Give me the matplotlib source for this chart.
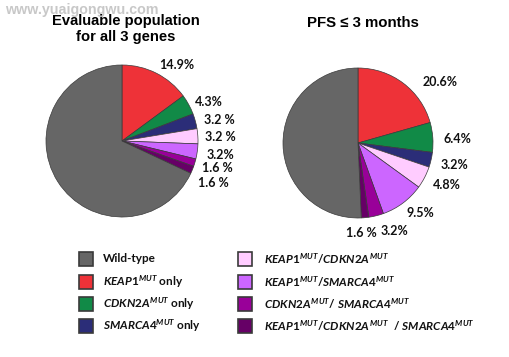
import matplotlib
matplotlib.use("Agg")
import matplotlib.pyplot as plt
from matplotlib.patches import Rectangle

plt.rcParams['mathtext.fontset'] = 'custom'
plt.rcParams['mathtext.it'] = 'Lato:italic:bold'
plt.rcParams['mathtext.rm'] = 'Lato:bold'
plt.rcParams['mathtext.bf'] = 'Lato:bold'

groups = ['Wild-type', 'KEAP1 only', 'CDKN2A only', 'SMARCA4 only',
          'KEAP1/CDKN2A', 'KEAP1/SMARCA4', 'CDKN2A/SMARCA4', 'KEAP1/CDKN2A/SMARCA4']
colors = ['#666666', '#ee3238', '#118a47', '#2b2d78',
          '#ffccff', '#cc66ff', '#990099', '#660066']

# percentages (wild-type first, then mutated groups clockwise from 12 o'clock)
eval_pct = [68.0, 14.9, 4.3, 3.2, 3.2, 3.2, 1.6, 1.6]
pfs_pct = [50.7, 20.6, 6.4, 3.2, 4.8, 9.5, 3.2, 1.6]
eval_labels = ['14.9%', '4.3%', '3.2 %', '3.2 %', '3.2%', '1.6 %', '1.6 %']
pfs_labels = ['20.6%', '6.4%', '3.2%', '4.8%', '9.5%', '3.2%', '1.6 %']

legend_text = [
    'Wild-type',
    r'$\mathit{KEAP1}^{\mathit{MUT}}$ only',
    r'$\mathit{CDKN2A}^{\mathit{MUT}}$ only',
    r'$\mathit{SMARCA4}^{\mathit{MUT}}$ only',
    r'$\mathit{KEAP1}^{\mathit{MUT}}\mathit{/CDKN2A}^{\mathit{MUT}}$',
    r'$\mathit{KEAP1}^{\mathit{MUT}}\mathit{/SMARCA4}^{\mathit{MUT}}$',
    r'$\mathit{CDKN2A}^{\mathit{MUT}}\mathit{/\ SMARCA4}^{\mathit{MUT}}$',
    r'$\mathit{KEAP1}^{\mathit{MUT}}\mathit{/CDKN2A}^{\mathit{MUT}}\ \ \mathit{/\ SMARCA4}^{\mathit{MUT}}$',
]

# label offsets in units of the pie radius
eval_lab_pos = [(0.72, 1.0), (1.14, 0.51), (1.28, 0.28), (1.29, 0.05),
                (1.29, -0.18), (1.26, -0.36), (1.20, -0.55)]
pfs_lab_pos = [(1.09, 0.81), (1.33, 0.05), (1.28, -0.29), (1.19, -0.56),
               (0.83, -0.93), (0.49, -1.17), (0.04, -1.2)]

W, H = 509, 357
fig = plt.figure(figsize=(W / 100, H / 100), dpi=100)


def pie_axes(cx, cy, r):
    ax = fig.add_axes([(cx - r) / W, (H - cy - r) / H, 2 * r / W, 2 * r / H])
    ax.set_xlim(-1, 1)
    ax.set_ylim(-1, 1)
    ax.axis('off')
    return ax


def draw_pie(ax, values, labels, lab_pos):
    # mutated groups clockwise from top, wild-type fills the rest
    vals = values[1:] + values[:1]
    cols = colors[1:] + colors[:1]
    ax.pie(vals, colors=cols, startangle=90, counterclock=False, radius=1,
           wedgeprops=dict(edgecolor='#3a3a3a', linewidth=0.5))
    ax.set_xlim(-1, 1)
    ax.set_ylim(-1, 1)
    for txt, (x, y) in zip(labels, lab_pos):
        ax.text(x, y, txt, ha='center', va='center', fontsize=9,
                fontweight='bold', family='Lato', color='#111111', clip_on=False)


ax1 = pie_axes(122, 141, 76)
draw_pie(ax1, eval_pct, eval_labels, eval_lab_pos)
ax2 = pie_axes(358, 143, 75)
draw_pie(ax2, pfs_pct, pfs_labels, pfs_lab_pos)

fig.text(126 / W, 1 - 29 / H, 'Evaluable population\nfor all 3 genes', ha='center',
         va='center', fontsize=10.6, fontweight='bold', family='Liberation Sans',
         linespacing=1.1)
fig.text(363 / W, 1 - 23 / H, 'PFS \u2264 3 months', ha='center', va='center',
         fontsize=10.8, fontweight='bold', family='Liberation Sans')

fig.text(5 / W, 1 - 10 / H, 'www.yuaigongwu.com', ha='left', va='center',
         fontsize=10.3, fontweight='bold', family='Liberation Sans', color='#c8c8c8',
         zorder=5)

# legend: two columns of four rows
lax = fig.add_axes([0, 0, 1, 1])
lax.set_xlim(0, W)
lax.set_ylim(H, 0)
lax.axis('off')
box_x = [86, 245]
text_x = [103, 264]
row_y = [259, 282, 304, 326]
sq = 14
for i, (c, t) in enumerate(zip(colors, legend_text)):
    col, row = divmod(i, 4)
    y = row_y[row]
    lax.add_patch(Rectangle((box_x[col] - sq / 2, y - sq / 2), sq, sq,
                            facecolor=c, edgecolor='#3a3a3a', linewidth=1.2))
    lax.text(text_x[col], y, t, ha='left', va='center', fontsize=8.5,
             fontweight='bold', family='Lato', color='#111111')

fig.savefig('out.png', dpi=100)
